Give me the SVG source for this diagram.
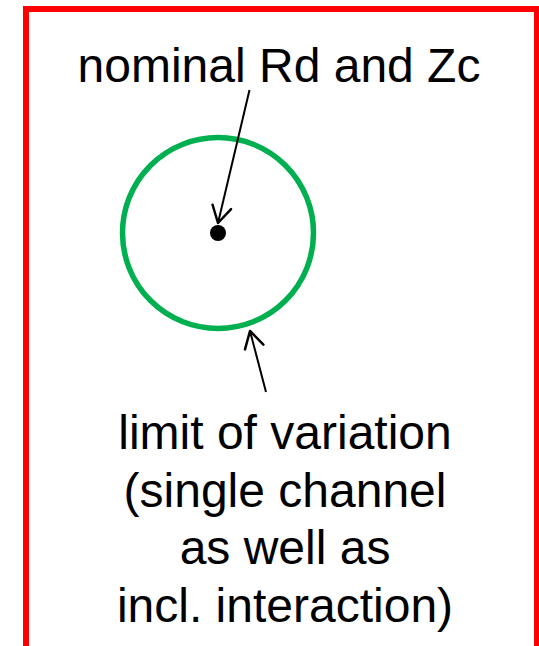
<svg xmlns="http://www.w3.org/2000/svg" width="539" height="646" viewBox="0 0 539 646">
<style>
.lbl{font-family:"Liberation Sans",Arial,sans-serif;font-size:48px;fill:#000;text-anchor:middle}
.conn{stroke:#000;stroke-width:2;fill:none}
</style>
<defs>
<marker id="arr" markerUnits="userSpaceOnUse" markerWidth="40" markerHeight="40" refX="0" refY="0" orient="auto" viewBox="-20 -20 40 40" overflow="visible">
<path d="M-16.5,-9.5 L0,0 L-16.5,9.5" fill="none" stroke="#000" stroke-width="2.5" stroke-linejoin="round" stroke-linecap="round"/>
</marker>
</defs>
<rect width="539" height="646" fill="#fff"/>
<rect id="frame" x="26" y="9" width="511" height="700" fill="none" stroke="#ff0000" stroke-width="6"/>
<g id="limit-circle">
<circle cx="218" cy="233" r="95.5" fill="none" stroke="#00b050" stroke-width="5.5"/>
</g>
<g id="nominal-point">
<circle cx="218" cy="233" r="8" fill="#000"/>
</g>
<g id="label-nominal">
<text class="lbl" x="279" y="82">nominal Rd and Zc</text>
</g>
<g id="label-limit">
<text class="lbl" x="285" y="449">limit of variation</text>
<text class="lbl" x="285" y="507">(single channel</text>
<text class="lbl" x="285" y="564">as well as</text>
<text class="lbl" x="285" y="622">incl. interaction)</text>
</g>
<g id="connectors">
<line class="conn" x1="249.5" y1="90" x2="218" y2="223" marker-end="url(#arr)"/>
<line class="conn" x1="266" y1="392" x2="250" y2="331" marker-end="url(#arr)"/>
</g>
</svg>
